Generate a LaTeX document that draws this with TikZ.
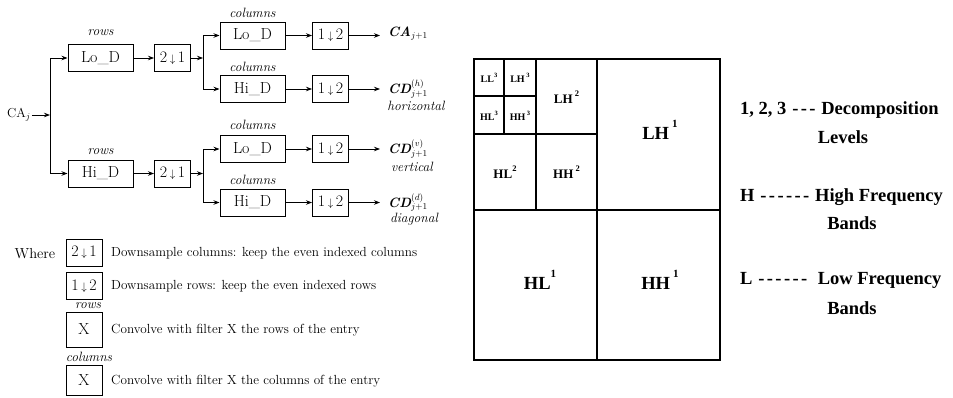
\documentclass[tikz,border=0pt]{standalone}
\usepackage{fontspec}
\newfontfamily\legfont{Liberation Serif}
\usetikzlibrary{arrows.meta}
\newcommand\dnar{\,$\scriptstyle\downarrow$\,}
\newcommand\hy{\kern1.2pt-\kern1.2pt}
\newcommand\supA[1]{\raisebox{12pt}{\fontsize{11}{11}\selectfont #1}}
\newcommand\supB[1]{\raisebox{7pt}{\fontsize{8.5}{8.5}\selectfont #1}}
\newcommand\supC[1]{\raisebox{5pt}{\fontsize{6.5}{6.5}\selectfont #1}}
\tikzset{
  blk/.style={draw, line width=1pt, minimum width=65pt, minimum height=27pt, inner sep=0pt, font=\fontsize{16}{18}\selectfont},
  dsb/.style={draw, line width=1pt, minimum width=36pt, minimum height=27pt, inner sep=0pt, font=\fontsize{16}{18}\selectfont},
  lab/.style={font=\fontsize{13.5}{15}\selectfont\itshape, inner sep=0pt},
  outl/.style={anchor=west, inner xsep=8pt, inner ysep=0pt, font=\fontsize{13.5}{15}\selectfont},
  desc/.style={anchor=west, inner sep=0pt, font=\fontsize{13.2}{15}\selectfont},
  arr/.style={line width=0.8pt, -{Stealth[length=6pt,width=4.5pt]}},
  grid/.style={line width=1.5pt},
  gl1/.style={font=\legfont\bfseries\fontsize{18.5}{20}\selectfont, inner sep=0pt},
  gl2/.style={font=\legfont\bfseries\fontsize{13}{14}\selectfont, inner sep=0pt},
  gl3/.style={font=\legfont\bfseries\fontsize{10}{11}\selectfont, inner sep=0pt},
  leg/.style={font=\legfont\bfseries\fontsize{18.5}{21}\selectfont, inner sep=0pt},
}
\begin{document}
\begin{tikzpicture}[x=1pt,y=-1pt]
\useasboundingbox[fill=white] (0,0) rectangle (953,397);

% ---------- filter bank ----------
\node[font=\fontsize{13}{15}\selectfont, inner sep=1pt] (caj) at (19,115) {CA$_j$};
\coordinate (j1) at (50,115);

\node[blk] (lo) at (100.5,58) {Lo\_D};
\node[lab] at (100.5,33) {rows};
\node[dsb] (ds1) at (172.5,58) {2\dnar1};
\coordinate (j2) at (203,58);

\node[blk] (hi) at (100.5,173.5) {Hi\_D};
\node[lab] at (100.5,152) {rows};
\node[dsb] (ds2) at (172.5,173.5) {2\dnar1};
\coordinate (j3) at (203,173.5);

\node[blk] (clo1) at (252.5,35.5) {Lo\_D};
\node[lab] at (252.5,13) {columns};
\node[dsb] (dc1) at (330.5,35.5) {1\dnar2};
\node[blk] (chi1) at (252.5,89) {Hi\_D};
\node[lab] at (252.5,67) {columns};
\node[dsb] (dc2) at (330.5,89) {1\dnar2};
\node[blk] (clo2) at (252.5,149) {Lo\_D};
\node[lab] at (252.5,125) {columns};
\node[dsb] (dc3) at (330.5,149) {1\dnar2};
\node[blk] (chi2) at (252.5,202.5) {Hi\_D};
\node[lab] at (252.5,180) {columns};
\node[dsb] (dc4) at (330.5,202.5) {1\dnar2};

\node[outl] (o1) at (380,33.5) {\bfseries\itshape CA$_{j+1}$};
\node[outl] (o2) at (380,89) {\bfseries\itshape CD$^{(h)}_{j+1}$};
\node[lab] at (416,106) {horizontal};
\node[outl] (o3) at (380,149) {\bfseries\itshape CD$^{(v)}_{j+1}$};
\node[lab] at (412,167) {vertical};
\node[outl] (o4) at (380,202.5) {\bfseries\itshape CD$^{(d)}_{j+1}$};
\node[lab] at (414,219) {diagonal};

\draw[arr] (caj.east) -- (j1);
\draw[arr] (j1) |- (lo.west);
\draw[arr] (j1) |- (hi.west);
\draw[arr] (lo) -- (ds1);
\draw[arr] (hi) -- (ds2);
\draw[arr] (ds1.east) -- (j2);
\draw[arr] (ds2.east) -- (j3);
\draw[arr] (j2) |- (clo1.west);
\draw[arr] (j2) |- (chi1.west);
\draw[arr] (j3) |- (clo2.west);
\draw[arr] (j3) |- (chi2.west);
\draw[arr] (clo1) -- (dc1);
\draw[arr] (chi1) -- (dc2);
\draw[arr] (clo2) -- (dc3);
\draw[arr] (chi2) -- (dc4);
\draw[arr] (dc1.east) -- (o1.west |- dc1.east);
\draw[arr] (dc2.east) -- (o2.west);
\draw[arr] (dc3.east) -- (o3.west);
\draw[arr] (dc4.east) -- (o4.west);

% ---------- legend ----------
\node[font=\fontsize{14.5}{16}\selectfont, inner sep=0pt] (where) at (35,254) {Where};
\node[dsb] (lb1) at (84,252.5) {2\dnar1};
\node[desc] (lt1) at (111,253) {Downsample columns: keep the even indexed columns};
\node[dsb] (lb2) at (84,286) {1\dnar2};
\node[desc] (lt2) at (111,286) {Downsample rows: keep the even indexed rows};
\node[lab] at (88,306) {rows};
\node[dsb, minimum height=35pt] (lb3) at (84,329.5) {X};
\node[desc] (lt3) at (111,330) {Convolve with filter X the rows of the entry};
\node[lab] at (89,357) {columns};
\node[dsb, minimum height=30pt] (lb4) at (84,380) {X};
\node[desc] (lt4) at (111,381) {Convolve with filter X the columns of the entry};

% ---------- subband grid ----------
\draw[grid] (474,59) rectangle (720,360);
\draw[grid] (597,59) -- (597,360);
\draw[grid] (474,210) -- (720,210);
\draw[grid] (536,59) -- (536,210);
\draw[grid] (474,134) -- (597,134);
\draw[grid] (504,59) -- (504,134);
\draw[grid] (474,96) -- (536,96);

\node[gl3] at (489,78) {LL\supC{3}};
\node[gl3] at (520,78) {LH\,\supC{3}};
\node[gl3] at (489,116) {HL\supC{3}};
\node[gl3] at (520,116) {HH\,\supC{3}};
\node[gl2] at (566.5,97) {LH\,\supB{2}};
\node[gl2] at (505,172) {HL\supB{2}};
\node[gl2] at (566.5,172) {HH\,\supB{2}};
\node[gl1] at (660,130) {LH\,\supA{1}};
\node[gl1] at (540,280) {HL\supA{1}};
\node[gl1] at (660,280) {HH\,\supA{1}};

% ---------- right legend ----------
\node[leg, anchor=west] at (740,110) {1, 2, 3 \hy\hy\hy{} Decomposition};
\node[leg] at (843,137) {Levels};
\node[leg, anchor=west] at (740,197) {H \hy\hy\hy\hy\hy\hy{} High Frequency};
\node[leg] at (852,223) {Bands};
\node[leg, anchor=west] at (740,280) {L \hy\hy\hy\hy\hy\hy{}~ Low Frequency};
\node[leg] at (852,308) {Bands};
\end{tikzpicture}
\end{document}
